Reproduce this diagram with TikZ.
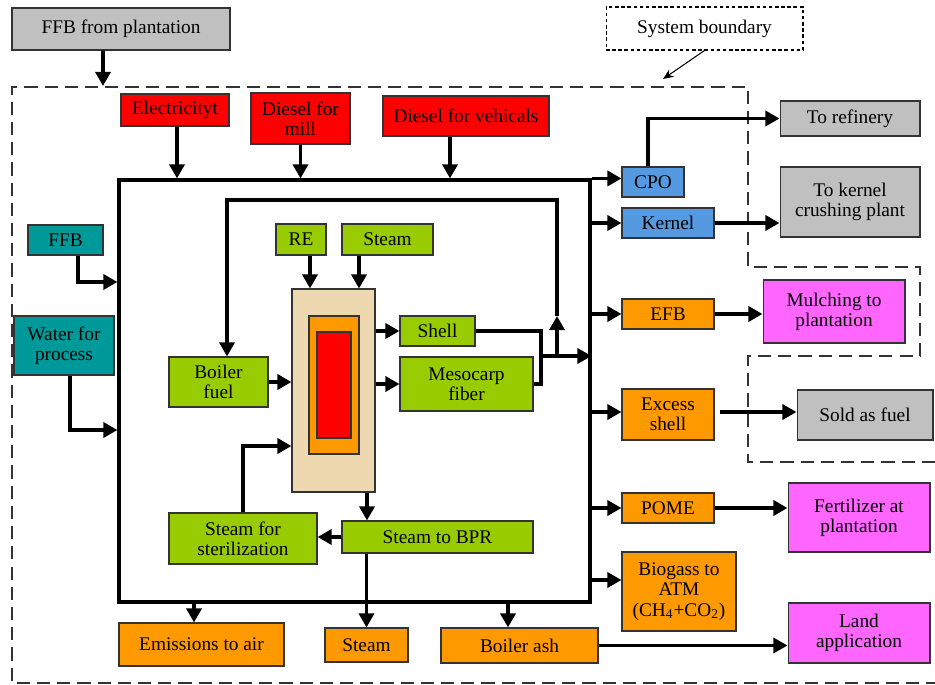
\documentclass[tikz,border=0pt]{standalone}
\usepackage{fontspec}
\setmainfont{Liberation Serif}
\usepackage{xcolor}
\usepackage{tikz}
\usetikzlibrary{arrows.meta, calc}

\definecolor{grayfill}{HTML}{C0C0C0}
\definecolor{redfill}{HTML}{FF0000}
\definecolor{tealfill}{HTML}{009999}
\definecolor{greenfill}{HTML}{99CC00}
\definecolor{bluefill}{HTML}{5599E0}
\definecolor{orangefill}{HTML}{FF9900}
\definecolor{pinkfill}{HTML}{FF66FF}
\definecolor{tanfill}{HTML}{EED8B0}
\definecolor{edgegray}{HTML}{333333}

\begin{document}
\begin{tikzpicture}[x=0.02cm, y=-0.02cm]
					\tikzstyle{box}=[draw=edgegray, line width=0.6pt, inner sep=1pt, align=center, font=\fontsize{11}{11.5}\selectfont]
					\tikzstyle{arr}=[line width=2.1pt, -{Triangle[length=8pt,width=8.5pt]}]
					\tikzstyle{flow}=[line width=2.1pt]
					\tikzstyle{thinarr}=[line width=0.6pt, -{Stealth[length=6pt,width=5pt]}]
					\tikzstyle{boundary}=[draw=edgegray, line width=1.2pt, dash pattern=on 7.5pt off 4pt]
					\useasboundingbox (0,0) rectangle (935,685);

					\draw[boundary] (935,462) -- (748,462) -- (748,356) -- (920,356) -- (920,267) -- (748,267) -- (748,87) -- (12,87) -- (12,683) -- (935,683);

					\node[box, fill=grayfill, minimum width=4.36cm, minimum height=0.84cm](ffbplant) at (121,29) {FFB from plantation};
					\node[box, draw=black, line width=0.6pt, dash pattern=on 2pt off 1.5pt, minimum width=3.94cm, minimum height=0.86cm](sysb) at (704.5,28.5) {System boundary};
					\coordinate (btop) at (103,86);
					\coordinate (bnd) at (663,79);

					\node[draw=black, line width=1.8pt, minimum width=9.42cm, minimum height=8.44cm](mill) at (354.5,391) {};

					\node[box, fill=redfill, minimum width=2.16cm, minimum height=0.64cm](elec) at (175,110) {Electricityt};
					\node[box, fill=redfill, minimum width=1.98cm, minimum height=1.02cm](dmill) at (300.5,118.5) {Diesel for\\mill};
					\node[box, fill=redfill, minimum width=3.32cm, minimum height=0.80cm](dveh) at (466,116) {Diesel for vehicals};

					\node[box, fill=tealfill, minimum width=1.5cm, minimum height=0.6cm](ffb) at (65.5,240) {FFB};
					\node[box, fill=tealfill, minimum width=2.0cm, minimum height=1.18cm](water) at (64,345.5) {Water for\\process};

					\node[box, fill=greenfill, minimum width=1.0cm, minimum height=0.62cm](re) at (301,239.5) {RE};
					\node[box, fill=greenfill, minimum width=1.82cm, minimum height=0.62cm](steamtop) at (387.5,239.5) {Steam};
					\node[box, fill=tanfill, minimum width=1.66cm, minimum height=4.06cm](reactor) at (333.5,390.5) {};
					\node[box, fill=orangefill, minimum width=1.0cm, minimum height=2.76cm](core) at (334,385) {};
					\node[box, fill=redfill, minimum width=0.68cm, minimum height=2.12cm](hot) at (334,385) {};
					\node[box, fill=greenfill, minimum width=1.98cm, minimum height=1.0cm](boiler) at (218.5,382) {Boiler\\fuel};
					\node[box, fill=greenfill, minimum width=1.5cm, minimum height=0.6cm](shell) at (437.5,331) {Shell};
					\node[box, fill=greenfill, minimum width=2.66cm, minimum height=1.08cm](meso) at (466.5,384) {Mesocarp\\fiber};
					\node[box, fill=greenfill, minimum width=3.82cm, minimum height=0.64cm](stbpr) at (437.5,537) {Steam to BPR};
					\node[box, fill=greenfill, minimum width=2.96cm, minimum height=1.02cm](stster) at (243,538.5) {Steam for\\sterilization};
					\coordinate (jn) at (541,356);
					\coordinate (jup) at (557,356);
					\coordinate (jtop) at (557,200);

					\node[box, fill=orangefill, minimum width=3.3cm, minimum height=0.86cm](emis) at (201.5,644.5) {Emissions to air};
					\node[box, fill=orangefill, minimum width=1.66cm, minimum height=0.68cm](steambot) at (366.5,645) {Steam};
					\node[box, fill=orangefill, minimum width=3.14cm, minimum height=0.7cm](ash) at (519.5,645.5) {Boiler ash};

					\node[box, fill=bluefill, minimum width=1.24cm, minimum height=0.6cm](cpo) at (653,182) {CPO};
					\node[box, fill=bluefill, minimum width=1.84cm, minimum height=0.6cm](kernel) at (668,223) {Kernel};
					\node[box, fill=orangefill, minimum width=1.84cm, minimum height=0.6cm](efb) at (668,314) {EFB};
					\node[box, fill=orangefill, minimum width=1.84cm, minimum height=1.02cm](exshell) at (668,414.5) {Excess\\shell};
					\node[box, fill=orangefill, minimum width=1.84cm, minimum height=0.6cm](pome) at (668,508) {POME};
					\node[box, fill=orangefill, minimum width=2.28cm, minimum height=1.58cm](biogas) at (679,591.5) {Biogass to\\ATM\\(CH\textsubscript{4}+CO\textsubscript{2})};

					\node[box, fill=grayfill, minimum width=2.8cm, minimum height=0.7cm](refinery) at (850,118.5) {To refinery};
					\node[box, fill=grayfill, minimum width=2.8cm, minimum height=1.4cm](crush) at (850,202) {To kernel\\crushing plant};
					\node[box, fill=pinkfill, minimum width=2.84cm, minimum height=1.26cm](mulch) at (834,311.5) {Mulching to\\plantation};
					\node[box, fill=grayfill, minimum width=2.72cm, minimum height=1.0cm](sold) at (865,415) {Sold as fuel};
					\node[box, fill=pinkfill, minimum width=2.84cm, minimum height=1.38cm](fert) at (859,517.5) {Fertilizer at\\plantation};
					\node[box, fill=pinkfill, minimum width=2.84cm, minimum height=1.2cm](land) at (859,633) {Land\\application};

					\draw[arr] ([xshift=-0.36cm]ffbplant.south) -- (btop);
					\draw[thinarr] (sysb.south) -- (bnd);

					\draw[arr] ([xshift=0.04cm]elec.south) -- ([xshift=0.04cm]elec.south |- mill.north);
					\draw[arr] (dmill.south) -- (dmill.south |- mill.north);
					\draw[arr] ([xshift=-0.32cm]dveh.south) -- ([xshift=-0.32cm]dveh.south |- mill.north);
					\draw[arr] ([xshift=0.25cm]ffb.south) |- (mill.west |- 0,282);
					\draw[arr] ([xshift=0.12cm]water.south) |- (mill.west |- 0,430);

					\draw[arr] ([xshift=0.18cm]re.south) -- ([xshift=0.18cm]re.south |- reactor.north);
					\draw[arr] ([xshift=-0.57cm]steamtop.south) -- ([xshift=-0.57cm]steamtop.south |- reactor.north);
					\draw[arr] (boiler.east) -- (boiler.east -| reactor.west);
					\draw[arr] (reactor.east |- shell.west) -- (shell.west);
					\draw[arr] (reactor.east |- meso.west) -- (meso.west);
					\draw[flow] (shell.east) -| (jn);
					\draw[flow] (meso.east) -| (jn);
					\draw[arr] (jn) -- (jn -| mill.east);
					\draw[arr] (jup) -- ($(jup)+(0,-40)$);
					\draw[arr] ($(jup)+(0,-40)$) -- (jtop) -| ([xshift=0.17cm]boiler.north);
					\draw[arr] ([xshift=0.67cm]reactor.south) -- ([xshift=0.67cm]reactor.south |- stbpr.north);
					\draw[arr] (stbpr.west) -- (stbpr.west -| stster.east);
					\draw[arr] (stster.north) |- (reactor.west |- 0,446);

					\draw[arr] ([xshift=-0.15cm]emis.north |- mill.south) -- ([xshift=-0.15cm]emis.north);
					\draw[arr] (steambot.north |- stbpr.south) -- (steambot.north);
					\draw[arr] ([xshift=-0.23cm]ash.north |- mill.south) -- ([xshift=-0.23cm]ash.north);
					\draw[arr] (ash.east) -- (ash.east -| land.west);

					\draw[arr] (mill.north east) -- (mill.north east -| cpo.west);
					\draw[arr] (kernel.west -| mill.east) -- (kernel.west);
					\draw[arr] (efb.west -| mill.east) -- (efb.west);
					\draw[arr] ([yshift=0.05cm]exshell.west -| mill.east) -- ([yshift=0.05cm]exshell.west);
					\draw[arr] (pome.west -| mill.east) -- (pome.west);
					\draw[arr] ([yshift=0.23cm]biogas.west -| mill.east) -- ([yshift=0.23cm]biogas.west);

					\draw[arr] ([xshift=-0.1cm]cpo.north) |- (refinery.west);
					\draw[arr] (kernel.east) -- (kernel.east -| crush.west);
					\draw[arr] (efb.east) -- (efb.east -| mulch.west);
					\draw[arr] ([shift={(0.1cm,0.05cm)}]exshell.east) -- ([yshift=0.05cm]exshell.east -| sold.west);
					\draw[arr] (pome.east) -- (pome.east -| fert.west);
				\end{tikzpicture}
\end{document}
